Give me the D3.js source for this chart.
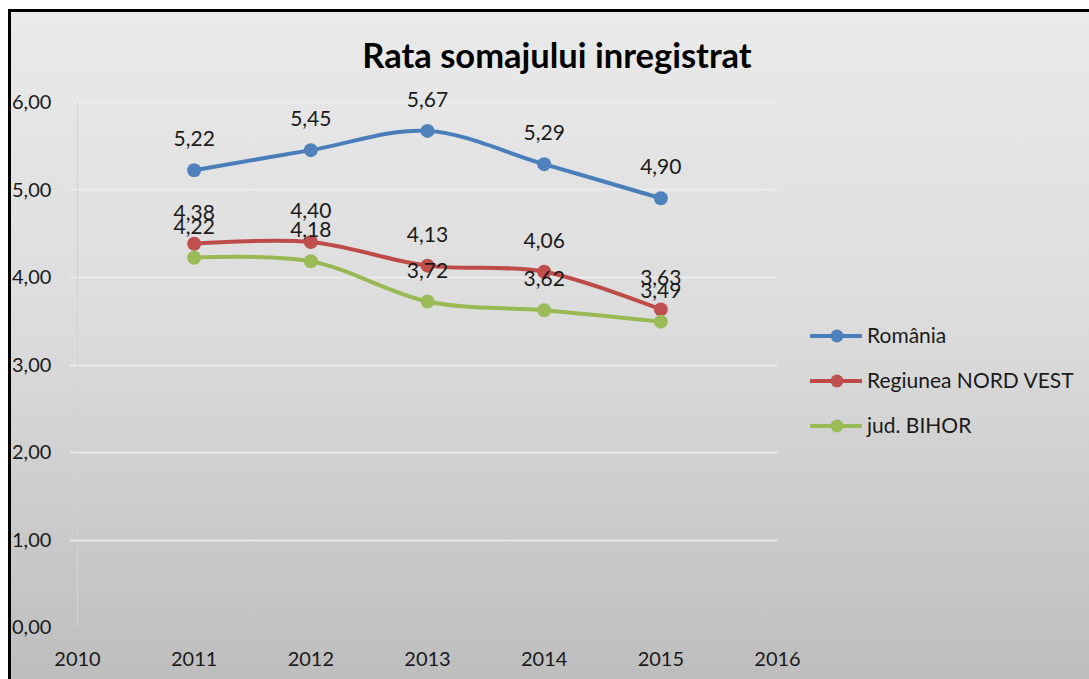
<!DOCTYPE html>
<html lang="ro">
	<head>
		<meta charset="utf-8">
		<title>Rata somajului inregistrat</title>
		<script type="text/javascript" src="https://cdn.jsdelivr.net/npm/d3@7"></script>
		<style type="text/css">
			body { margin: 0; background: #fff; }
			svg text { font-family: Lato, "Open Sans", sans-serif; fill: #1a1a1a; }
		</style>
	</head>
	<body>
		<script type="text/javascript">

			// Data
			var years = [2011, 2012, 2013, 2014, 2015];
			var romania = [5.22, 5.45, 5.67, 5.29, 4.90];
			var nordVest = [4.38, 4.40, 4.13, 4.06, 3.63];
			var bihor = [4.22, 4.18, 3.72, 3.62, 3.49];
			var seriesNames = ["România", "Regiunea NORD VEST", "jud. BIHOR"];
			var xTicks = [2010, 2011, 2012, 2013, 2014, 2015, 2016];
			var yTicks = [0, 1, 2, 3, 4, 5, 6];

			var w = 1089;
			var h = 679;

			var lineColors = ["#4A7EBB", "#BE4B48", "#98B954"];
			var dotColors = ["#4F81BD", "#C0504D", "#9BBB59"];
			var allSeries = [romania, nordVest, bihor];

			var fmt = function(v) { return v.toFixed(2).replace(".", ","); };

			var svg = d3.select("body").append("svg")
				.attr("width", w)
				.attr("height", h);

			// background gradient
			var grad = svg.append("defs").append("linearGradient")
				.attr("id", "bg")
				.attr("x1", 0).attr("y1", 0).attr("x2", 0).attr("y2", 1);
			grad.append("stop").attr("offset", "0%").attr("stop-color", "#eaeaea");
			grad.append("stop").attr("offset", "45%").attr("stop-color", "#dcdcdc");
			grad.append("stop").attr("offset", "100%").attr("stop-color", "#bbbbbb");

			svg.append("rect")
				.attr("x", 9.5).attr("y", 10.5)
				.attr("width", w + 20).attr("height", h + 20)
				.attr("fill", "url(#bg)")
				.attr("stroke", "#000")
				.attr("stroke-width", 3);

			// Scales
			var x = d3.scaleLinear().domain([2010, 2016]).range([77.5, 777.5]);
			var y = d3.scaleLinear().domain([0, 6]).range([627, 102]);

			// gridlines
			svg.append("g").selectAll("line")
				.data(yTicks.filter(function(d) { return d > 0; }))
				.enter().append("line")
				.attr("x1", 70).attr("x2", x(2016))
				.attr("y1", function(d) { return Math.round(y(d)) + 0.5; })
				.attr("y2", function(d) { return Math.round(y(d)) + 0.5; })
				.attr("stroke", "#eeeeee")
				.attr("stroke-width", 1.5);

			// y axis line
			svg.append("line")
				.attr("x1", 77.5).attr("x2", 77.5)
				.attr("y1", y(6)).attr("y2", y(0))
				.attr("stroke", "#d2d2d2");

			// y labels
			svg.append("g").selectAll("text")
				.data(yTicks)
				.enter().append("text")
				.attr("x", 12)
				.attr("y", function(d) { return y(d) + 7; })
				.attr("font-size", 20)
				.text(function(d) { return fmt(d); });

			// x labels
			svg.append("g").selectAll("text")
				.data(xTicks)
				.enter().append("text")
				.attr("x", function(d) { return x(d); })
				.attr("y", 666)
				.attr("text-anchor", "middle")
				.attr("font-size", 20)
				.text(function(d) { return d; });

			// Title
			svg.append("text")
				.attr("x", 557)
				.attr("y", 68)
				.attr("text-anchor", "middle")
				.attr("font-size", 34.5)
				.attr("font-weight", "bold")
				.style("fill", "#000")
				.text("Rata somajului inregistrat");

			// Lines
			var line = d3.line()
				.x(function(d, i) { return x(years[i]); })
				.y(function(d) { return y(d); })
				.curve(d3.curveCardinal.tension(0));

			allSeries.forEach(function(vals, s) {
				svg.append("path")
					.datum(vals)
					.attr("d", line)
					.attr("fill", "none")
					.attr("stroke", lineColors[s])
					.attr("stroke-width", 4)
					.attr("stroke-linecap", "round");

				svg.append("g").selectAll("circle")
					.data(vals)
					.enter().append("circle")
					.attr("cx", function(d, i) { return x(years[i]); })
					.attr("cy", function(d) { return y(d); })
					.attr("r", 7)
					.attr("fill", dotColors[s]);
			});

			// Data labels (drawn last)
			allSeries.forEach(function(vals, s) {
				svg.append("g").selectAll("text")
					.data(vals)
					.enter().append("text")
					.attr("x", function(d, i) { return x(years[i]); })
					.attr("y", function(d) { return y(d) - 24; })
					.attr("text-anchor", "middle")
					.attr("font-size", 21)
					.text(function(d) { return fmt(d); });
			});

			// Legend
			var legend = svg.append("g").selectAll("g")
				.data(seriesNames)
				.enter().append("g")
				.attr("transform", function(d, i) { return "translate(810," + (336 + i * 45) + ")"; });

			legend.append("line")
				.attr("x1", 0).attr("x2", 52)
				.attr("stroke", function(d, i) { return lineColors[i]; })
				.attr("stroke-width", 4);

			legend.append("circle")
				.attr("cx", 27).attr("r", 6.5)
				.attr("fill", function(d, i) { return dotColors[i]; });

			legend.append("text")
				.attr("x", 57)
				.attr("y", 7)
				.attr("font-size", 21)
				.text(function(d) { return d; });

		</script>
	</body>
</html>
